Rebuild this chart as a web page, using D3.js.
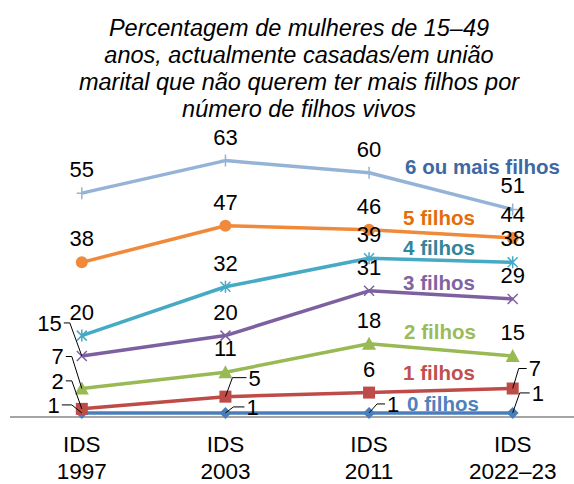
<!DOCTYPE html>
<html>
<head>
<meta charset="utf-8">
<script src="https://cdn.jsdelivr.net/npm/d3@7/dist/d3.min.js"></script>
<style>
  body { margin: 0; background: #fff; }
  svg text { font-family: "Liberation Sans", Arial, sans-serif; }
</style>
</head>
<body>
<div id="chart"></div>
<script>
// data
var categories = ["IDS\n1997", "IDS\n2003", "IDS\n2011", "IDS\n2022\u201323"];
var seriesNames = ["0 filhos", "1 filhos", "2 filhos", "3 filhos", "4 filhos", "5 filhos", "6 ou mais filhos"];
var filhos0 = [1, 1, 1, 1];
var filhos1 = [2, 5, 6, 7];
var filhos2 = [7, 11, 18, 15];
var filhos3 = [15, 20, 31, 29];
var filhos4 = [20, 32, 39, 38];
var filhos5 = [38, 47, 46, 44];
var filhos6 = [55, 63, 60, 51];
var titleLines = ["Percentagem de mulheres de 15\u201349", "anos, actualmente casadas/em uni\u00e3o",
                  "marital que n\u00e3o querem ter mais filhos por", "n\u00famero de filhos vivos"];

// styles per series
var lineColors  = ["#4A7EBB", "#BE4B48", "#98B954", "#7D60A0", "#46AAC5", "#F08A3A", "#95B3D7"];
var labelColors = ["#4F81BD", "#C0504D", "#9BBB59", "#8064A2", "#31859C", "#E46C0A", "#3E68A4"];
var markers = ["diamond", "square", "triangle", "x", "asterisk", "circle", "plus"];
// series name label placement (in value units, x offset from 2011 point)
var nameLabelY = [3.4, 10.8, 21.1, 32.9, 41.5, 49.1, 61.4];
var nameLabelDx = [38, 34, 35, 34, 34, 34, 36];

// data labels that need a leader line: series, category, side, dy, elbow, end
var leaders = [
  {s: 3, c: 0, side: -1, dy: -33, elbow: 12, end: 18},
  {s: 2, c: 0, side: -1, dy: -32, elbow: 10, end: 16},
  {s: 1, c: 0, side: -1, dy: -28, elbow: 10, end: 16},
  {s: 0, c: 0, side: -1, dy: -8, elbow: 10, end: 20},
  {s: 1, c: 1, side: 1, dy: -19, elbow: 7, end: 21},
  {s: 0, c: 1, side: 1, dy: -6, elbow: 8, end: 19},
  {s: 0, c: 2, side: 1, dy: -9, elbow: 8, end: 16},
  {s: 1, c: 3, side: 1, dy: -20, elbow: 6, end: 14},
  {s: 0, c: 3, side: 1, dy: -20, elbow: 7, end: 17}
];

var allValues = [filhos0, filhos1, filhos2, filhos3, filhos4, filhos5, filhos6];
var series = seriesNames.map(function (n, i) {
    return {name: n, values: allValues[i], color: lineColors[i], labelColor: labelColors[i], marker: markers[i], idx: i};
});

var width = 574, height = 484;
var svg = d3.select("#chart").append("svg").attr("width", width).attr("height", height);

var x = d3.scalePoint().domain(categories).range([10, 584.5]).padding(0.5);
var y = d3.scaleLinear().domain([0, 100]).range([417, 10]);

// title
svg.append("g").selectAll("text")
    .data(titleLines)
    .enter().append("text")
    .attr("x", 299)
    .attr("y", function (d, i) { return 36 + i * 27; })
    .attr("text-anchor", "middle")
    .style("font-style", "italic")
    .style("font-size", "23.5px")
    .style("fill", "#000")
    .text(function (d) { return d; });

// axis line
svg.append("line")
    .attr("x1", 10).attr("x2", 574)
    .attr("y1", y(0)).attr("y2", y(0))
    .style("stroke", "#878787").style("stroke-width", 1.5);

// x axis labels
var xl = svg.append("g").selectAll("text")
    .data(categories)
    .enter().append("text")
    .attr("text-anchor", "middle")
    .style("font-size", "22.5px")
    .style("fill", "#000");
xl.each(function (d) {
    var t = d3.select(this);
    d.split("\n").forEach(function (part, i) {
        t.append("tspan").attr("x", x(d)).attr("y", 452 + i * 27).text(part);
    });
});

var line = d3.line()
    .x(function (d, i) { return x(categories[i]); })
    .y(function (d) { return y(d); });

function drawMarker(g, type, color) {
    if (type == "diamond") {
        g.append("path").attr("d", "M0,-6L6,0L0,6L-6,0Z").style("fill", color);
    } else if (type == "square") {
        g.append("rect").attr("x", -6).attr("y", -6).attr("width", 12).attr("height", 12).style("fill", color);
    } else if (type == "triangle") {
        g.append("path").attr("d", "M0,-7L7,6L-7,6Z").style("fill", color);
    } else if (type == "circle") {
        g.append("circle").attr("r", 6).style("fill", color);
    } else if (type == "x") {
        g.append("path").attr("d", "M-5,-5L5,5M-5,5L5,-5").style("stroke", color).style("stroke-width", 1.5);
    } else if (type == "asterisk") {
        g.append("path").attr("d", "M-5,-5L5,5M-5,5L5,-5M0,-6L0,6").style("stroke", color).style("stroke-width", 1.5);
    } else if (type == "plus") {
        g.append("path").attr("d", "M-5,0L5,0M0,-6L0,6").style("stroke", color).style("stroke-width", 1.5);
    }
}

series.forEach(function (s) {
    svg.append("path")
        .datum(s.values)
        .attr("d", line)
        .style("fill", "none")
        .style("stroke", s.color)
        .style("stroke-width", 3.5)
        .style("stroke-linejoin", "round");
    s.values.forEach(function (v, i) {
        var m = svg.append("g").attr("transform", "translate(" + x(categories[i]) + "," + y(v) + ")");
        drawMarker(m, s.marker, s.color);
    });
});

// data labels
function findLeader(si, ci) {
    for (var k = 0; k < leaders.length; k++) {
        if (leaders[k].s == si && leaders[k].c == ci) return leaders[k];
    }
    return null;
}
series.forEach(function (s) {
    s.values.forEach(function (v, i) {
        var px = x(categories[i]), py = y(v);
        var ld = findLeader(s.idx, i);
        if (ld) {
            var ly = py + ld.dy;
            svg.append("path")
                .attr("d", "M" + px + "," + py + "L" + (px + ld.side * ld.elbow) + "," + ly + "L" + (px + ld.side * ld.end) + "," + ly)
                .style("fill", "none").style("stroke", "#000").style("stroke-width", 1);
            svg.append("text")
                .attr("x", px + ld.side * (ld.end + 2))
                .attr("y", ly)
                .attr("dy", "0.36em")
                .attr("text-anchor", ld.side < 0 ? "end" : "start")
                .style("font-size", "22px")
                .text(v);
        } else {
            svg.append("text")
                .attr("x", px)
                .attr("y", py - 24)
                .attr("dy", "0.36em")
                .attr("text-anchor", "middle")
                .style("font-size", "22px")
                .text(v);
        }
    });
});

// series name labels
series.forEach(function (s) {
    svg.append("text")
        .attr("x", x(categories[2]) + nameLabelDx[s.idx])
        .attr("y", y(nameLabelY[s.idx]))
        .attr("dy", "0.36em")
        .style("font-size", "20.5px")
        .style("font-weight", "bold")
        .style("fill", s.labelColor)
        .text(s.name);
});
</script>
</body>
</html>
